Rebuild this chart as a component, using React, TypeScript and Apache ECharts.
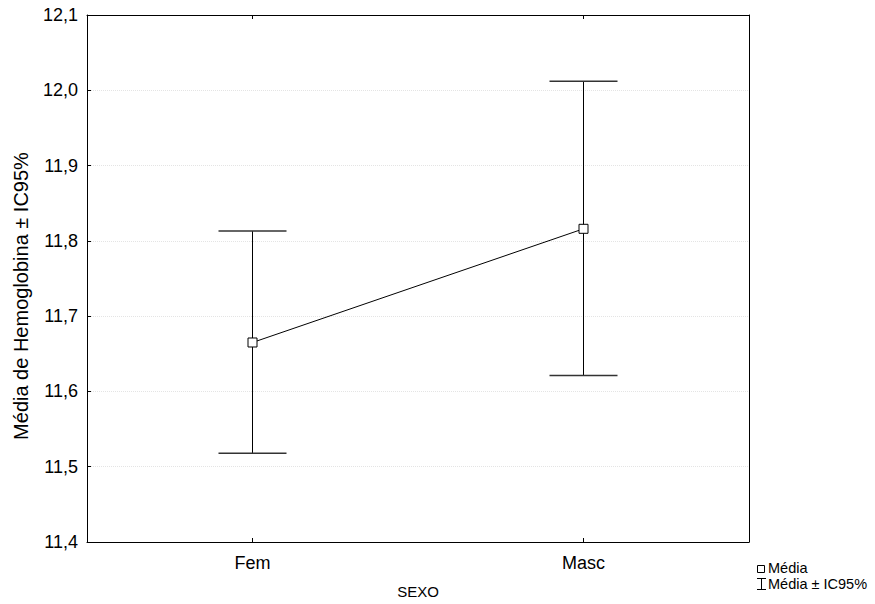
import React, { useEffect, useRef } from "react";
import * as echarts from "echarts";

const categories = ["Fem", "Masc"];
const means = [11.665, 11.816];
const lowerCI = [11.518, 11.621];
const upperCI = [11.813, 12.012];
const yTicks = [11.4, 11.5, 11.6, 11.7, 11.8, 11.9, 12.0, 12.1];

export default function App() {
  const ref = useRef<HTMLDivElement>(null);
  useEffect(() => {
    if (!ref.current) return;
    const chart = echarts.init(ref.current, null, { renderer: "svg" });
    const font = "Liberation Sans, Arial, sans-serif";
    const errData = categories.map((c, i) => [i, lowerCI[i], upperCI[i]]);
    chart.setOption({
      animation: false,
      backgroundColor: "#ffffff",
      grid: { left: 87, right: 126, top: 15, bottom: 58, containLabel: false },
      xAxis: [
        {
          type: "category",
          data: categories,
          boundaryGap: true,
          name: "SEXO",
          nameLocation: "middle",
          nameGap: 42,
          nameTextStyle: { fontSize: 15, color: "#000", fontFamily: font },
          axisLine: { show: true, lineStyle: { color: "#000", width: 1 } },
          axisTick: { show: true, inside: true, alignWithLabel: true, length: 4, lineStyle: { color: "#000" } },
          axisLabel: { fontSize: 18, color: "#000", fontFamily: font, margin: 12 },
          splitLine: { show: false },
        },
        {
          type: "category",
          data: categories,
          position: "top",
          boundaryGap: true,
          axisLine: { show: true, lineStyle: { color: "#000", width: 1 } },
          axisTick: { show: true, inside: true, alignWithLabel: true, length: 4, lineStyle: { color: "#000" } },
          axisLabel: { show: false },
          splitLine: { show: false },
        },
      ],
      yAxis: [
        {
          type: "value",
          min: 11.4,
          max: 12.1,
          interval: 0.1,
          axisLine: { show: true, lineStyle: { color: "#000", width: 1 } },
          axisTick: { show: true, inside: true, length: 4, lineStyle: { color: "#000" } },
          axisLabel: {
            fontSize: 18,
            color: "#000",
            fontFamily: font,
            margin: 9,
            formatter: (v: number) => {
              const t = yTicks.find((x) => Math.abs(x - v) < 1e-6);
              return (t !== undefined ? t : v).toFixed(1).replace(".", ",");
            },
          },
          splitLine: { show: true, lineStyle: { color: "#e4e4e4", type: "dotted", width: 1 } },
        },
        {
          type: "value",
          min: 11.4,
          max: 12.1,
          interval: 0.1,
          position: "right",
          axisLine: { show: true, lineStyle: { color: "#000", width: 1 } },
          axisTick: { show: false },
          axisLabel: { show: false },
          splitLine: { show: false },
        },
      ],
      series: [
        {
          name: "Média ± IC95%",
          type: "custom",
          data: errData,
          z: 2,
          renderItem: (params: any, api: any) => {
            const x = api.value(0);
            const lo = api.coord([x, api.value(1)]);
            const hi = api.coord([x, api.value(2)]);
            const hw = 34;
            const style = { stroke: "#000", lineWidth: 1 };
            return {
              type: "group",
              children: [
                { type: "line", shape: { x1: lo[0], y1: lo[1], x2: hi[0], y2: hi[1] }, style },
                { type: "line", shape: { x1: lo[0] - hw, y1: lo[1], x2: lo[0] + hw, y2: lo[1] }, style: { stroke: "#333", lineWidth: 1.5 } },
                { type: "line", shape: { x1: hi[0] - hw, y1: hi[1], x2: hi[0] + hw, y2: hi[1] }, style: { stroke: "#333", lineWidth: 1.5 } },
              ],
            };
          },
        },
        {
          name: "Média",
          type: "line",
          data: means,
          z: 5,
          symbol: "rect",
          symbolSize: 9,
          lineStyle: { color: "#000", width: 1 },
          itemStyle: { color: "#fff", borderColor: "#000", borderWidth: 1 },
        },
      ],
      graphic: [
        {
          type: "text",
          x: 21,
          y: 296,
          rotation: Math.PI / 2,
          style: {
            text: "Média de Hemoglobina ± IC95%",
            fill: "#000",
            font: "20px Liberation Sans, Arial, sans-serif",
            textAlign: "center",
            textVerticalAlign: "middle",
          },
        },
        { type: "rect", shape: { x: 757.5, y: 565.5, width: 7, height: 7 }, style: { fill: "#fff", stroke: "#000", lineWidth: 1 } },
        { type: "text", x: 768, y: 567.5, style: { text: "Média", fill: "#000", font: "14.5px Liberation Sans, Arial, sans-serif", textVerticalAlign: "middle", lineHeight: 15 } },
        { type: "line", shape: { x1: 757, y1: 578.5, x2: 766, y2: 578.5 }, style: { stroke: "#000", lineWidth: 1 } },
        { type: "line", shape: { x1: 761.5, y1: 578.5, x2: 761.5, y2: 589.5 }, style: { stroke: "#000", lineWidth: 1 } },
        { type: "line", shape: { x1: 757, y1: 589.5, x2: 766, y2: 589.5 }, style: { stroke: "#000", lineWidth: 1 } },
        { type: "text", x: 768, y: 583.5, style: { text: "Média ± IC95%", fill: "#000", font: "14.5px Liberation Sans, Arial, sans-serif", textVerticalAlign: "middle", lineHeight: 15 } },
      ],
    });
    return () => chart.dispose();
  }, []);
  return <div ref={ref} style={{ width: 875, height: 604, position: "absolute", left: 0, top: 0 }} />;
}
